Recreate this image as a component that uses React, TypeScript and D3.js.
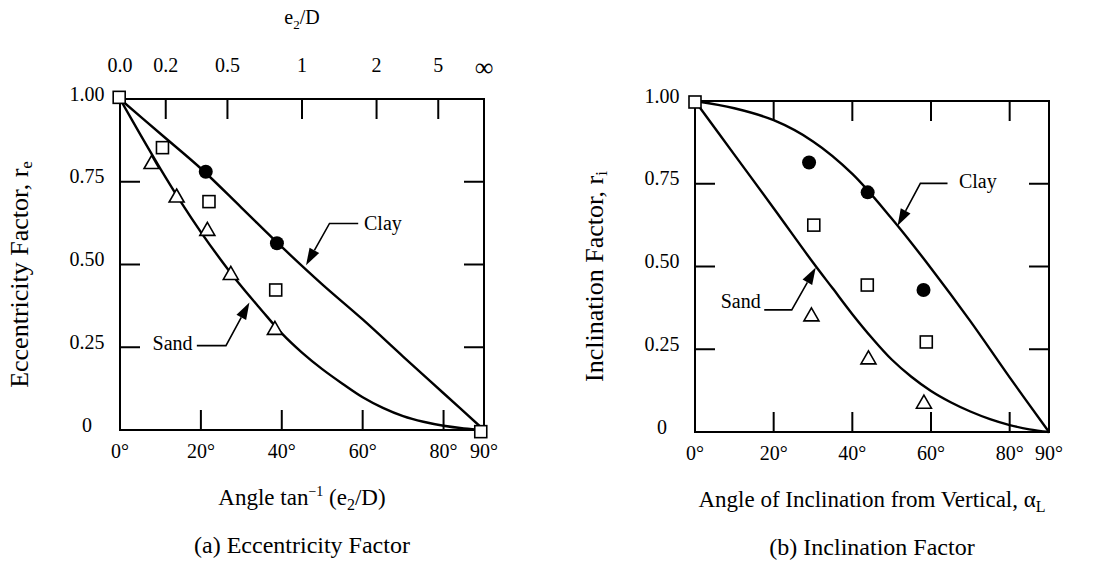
import React from "react";
import * as d3 from "d3";

// ---------- shared axes ----------
const angleTickValues = [20, 40, 60, 80];
const angleTickLabels = [0, 20, 40, 60, 80, 90];
const factorTickValues = [0.25, 0.5, 0.75];
const factorLabelValues = [0, 0.25, 0.5, 0.75, 1.0];
const factorLabelText = ["0", "0.25", "0.50", "0.75", "1.00"];
const eOverDTickValues = [0.2, 0.5, 1, 2, 5];
const eOverDLabelValues = [0, 0.2, 0.5, 1, 2, 5, Infinity];
const eOverDLabelText = ["0.0", "0.2", "0.5", "1", "2", "5", "∞"];

// ---------- (a) eccentricity factor: [angle deg, r_e] ----------
const eccClayCurve: [number, number][] = [
  [0, 1], [10, 0.895], [20, 0.79], [30, 0.672], [40, 0.553], [50, 0.44],
  [60, 0.334], [70, 0.222], [80, 0.111], [90, 0],
];
const eccSandCurve: [number, number][] = [
  [0, 1], [5, 0.893], [10, 0.789], [15, 0.69], [20, 0.598], [25, 0.513],
  [30, 0.434], [35, 0.362], [40, 0.292], [45, 0.234], [50, 0.184],
  [55, 0.14], [60, 0.099], [65, 0.067], [70, 0.042], [75, 0.025],
  [80, 0.013], [85, 0.005], [90, 0],
];
const eccCircles: [number, number][] = [[21.2, 0.78], [38.8, 0.564]];
const eccSquares: [number, number][] = [
  [-0.2, 1.005], [10.5, 0.853], [22, 0.69], [38.5, 0.423], [89.2, -0.005],
];
const eccTriangles: [number, number][] = [
  [7.8, 0.808], [14, 0.707], [21.6, 0.606], [27.4, 0.473], [38.3, 0.307],
];

// ---------- (b) inclination factor: [angle deg, r_i] ----------
const incClayCurve: [number, number][] = [
  [0, 1], [10, 0.978], [20, 0.942], [30, 0.878], [40, 0.78], [50, 0.645],
  [60, 0.495], [70, 0.335], [80, 0.165], [90, 0],
];
const incSandCurve: [number, number][] = [
  [0, 1], [10, 0.838], [20, 0.676], [30, 0.512], [35, 0.434], [40, 0.356],
  [45, 0.284], [50, 0.219], [55, 0.167], [60, 0.124], [65, 0.09],
  [70, 0.062], [75, 0.039], [80, 0.021], [85, 0.008], [90, 0],
];
const incCircles: [number, number][] = [[29, 0.814], [43.9, 0.724], [58.1, 0.429]];
const incSquares: [number, number][] = [
  [0, 0.997], [30.2, 0.625], [43.8, 0.444], [58.8, 0.272],
];
const incTriangles: [number, number][] = [[29.6, 0.354], [44.1, 0.224], [58.2, 0.09]];

// annotations: label, text pos, leader start, leader end (horizontal), arrow tip
type Ann = { label: string; text: [number, number]; h0: number; h1: number; hv: number; tip: [number, number] };
const eccAnnotations: Ann[] = [
  { label: "Clay", text: [65, 0.619], h0: 58.9, h1: 51.8, hv: 0.624, tip: [46, 0.498] },
  { label: "Sand", text: [13, 0.257], h0: 19, h1: 26.2, hv: 0.255, tip: [32, 0.385] },
];
const incAnnotations: Ann[] = [
  { label: "Clay", text: [71.9, 0.751], h0: 64.2, h1: 57.3, hv: 0.751, tip: [51.5, 0.623] },
  { label: "Sand", text: [11.6, 0.389], h0: 17.6, h1: 24.6, hv: 0.369, tip: [30.7, 0.497] },
];

const FONT = "Liberation Serif, Times New Roman, serif";

type PanelProps = {
  x0: number; x1: number; y0: number; y1: number;
  clay: [number, number][]; sand: [number, number][];
  circles: [number, number][]; squares: [number, number][]; triangles: [number, number][];
  anns: Ann[];
  topEOverD: boolean;
  yTitle: string; ySub: string;
  xTitle: React.ReactNode; caption: string;
};

function Panel(p: PanelProps) {
  const x = d3.scaleLinear().domain([0, 90]).range([p.x0, p.x1]);
  const y = d3.scaleLinear().domain([0, 1]).range([p.y1, p.y0]);
  const line = d3.line<[number, number]>().x((d) => x(d[0])).y((d) => y(d[1])).curve(d3.curveCatmullRom.alpha(0.5));
  const tickLen = 20;
  const cx = (p.x0 + p.x1) / 2;
  const cy = (p.y0 + p.y1) / 2;
  const labelX = p.x0 - 33;
  const atanDeg = (v: number) => (Math.atan(v) * 180) / Math.PI;

  return (
    <g>
      {/* frame */}
      <rect x={p.x0} y={p.y0} width={p.x1 - p.x0} height={p.y1 - p.y0} fill="none" stroke="#000" strokeWidth={2} />
      {/* bottom ticks */}
      {angleTickValues.map((t) => (
        <line key={"b" + t} x1={x(t)} x2={x(t)} y1={p.y1} y2={p.y1 - tickLen} stroke="#000" strokeWidth={2} />
      ))}
      {/* top ticks */}
      {(p.topEOverD ? eOverDTickValues.map(atanDeg) : angleTickValues).map((t, i) => (
        <line key={"t" + i} x1={x(t)} x2={x(t)} y1={p.y0} y2={p.y0 + tickLen} stroke="#000" strokeWidth={2} />
      ))}
      {/* left/right ticks */}
      {factorTickValues.map((t) => (
        <g key={"lr" + t}>
          <line x1={p.x0} x2={p.x0 + tickLen} y1={y(t)} y2={y(t)} stroke="#000" strokeWidth={2} />
          <line x1={p.x1} x2={p.x1 - tickLen} y1={y(t)} y2={y(t)} stroke="#000" strokeWidth={2} />
        </g>
      ))}
      {/* y labels */}
      {factorLabelValues.map((t, i) => (
        <text key={"yl" + t} x={labelX} y={y(t) - 3} textAnchor="middle" dominantBaseline="middle" fontSize={20} fontFamily={FONT}>
          {factorLabelText[i]}
        </text>
      ))}
      {/* x labels */}
      {angleTickLabels.map((t) => (
        <text key={"xl" + t} x={x(t)} y={p.y1 + 23} textAnchor="middle" dominantBaseline="middle" fontSize={20} fontFamily={FONT}>
          {t + "°"}
        </text>
      ))}
      {/* top e2/D labels */}
      {p.topEOverD && (
        <g>
          {eOverDLabelValues.map((v, i) => (
            <text key={"el" + i} x={x(atanDeg(v))} y={p.y0 - 32 + (i === 6 ? 3 : 0)} textAnchor="middle" dominantBaseline="middle"
              fontSize={i === 6 ? 26 : 20} fontFamily={FONT}>
              {eOverDLabelText[i]}
            </text>
          ))}
          <text x={cx} y={p.y0 - 75} textAnchor="middle" fontSize={20} fontFamily={FONT}>
            e<tspan fontSize={13} dy={5}>2</tspan><tspan dy={-5}>/D</tspan>
          </text>
        </g>
      )}
      {/* y title */}
      <text transform={`translate(${p.x0 - 98},${cy + 10}) rotate(-90)`} textAnchor="middle" dominantBaseline="middle" fontSize={26} fontFamily={FONT}>
        {p.yTitle}<tspan fontSize={17} dy={6}>{p.ySub}</tspan>
      </text>
      {/* x title */}
      <text x={cx} y={p.y1 + 75} textAnchor="middle" fontSize={23} fontFamily={FONT}>{p.xTitle}</text>
      {/* caption */}
      <text x={cx} y={p.y1 + 123} textAnchor="middle" fontSize={24} fontFamily={FONT}>{p.caption}</text>

      {/* curves */}
      <path d={line(p.clay) || ""} fill="none" stroke="#000" strokeWidth={2.4} />
      <path d={line(p.sand) || ""} fill="none" stroke="#000" strokeWidth={2.4} />

      {/* markers */}
      {p.circles.map((d, i) => (
        <circle key={"c" + i} cx={x(d[0])} cy={y(d[1])} r={7} fill="#000" />
      ))}
      {p.squares.map((d, i) => (
        <rect key={"s" + i} x={x(d[0]) - 6} y={y(d[1]) - 6} width={12} height={12} fill="#fff" stroke="#000" strokeWidth={1.6} />
      ))}
      {p.triangles.map((d, i) => {
        const px = x(d[0]);
        const py = y(d[1]);
        return (
          <path key={"tr" + i} d={`M${px},${py - 7}L${px + 7.5},${py + 6}L${px - 7.5},${py + 6}Z`} fill="#fff" stroke="#000" strokeWidth={1.6} />
        );
      })}

      {/* annotations */}
      {p.anns.map((a, i) => {
        const hy = y(a.hv);
        const hx0 = x(a.h0);
        const hx1 = x(a.h1);
        const tx = x(a.tip[0]);
        const ty = y(a.tip[1]);
        const dx = tx - hx1;
        const dy = ty - hy;
        const len = Math.hypot(dx, dy);
        const ux = dx / len;
        const uy = dy / len;
        const hl = 17;
        const hw = 5.5;
        const bx = tx - ux * hl;
        const by = ty - uy * hl;
        const head = `M${tx},${ty}L${bx - uy * hw},${by + ux * hw}L${bx + uy * hw},${by - ux * hw}Z`;
        return (
          <g key={"a" + i}>
            <polyline points={`${hx0},${hy} ${hx1},${hy} ${bx},${by}`} fill="none" stroke="#000" strokeWidth={1.6} />
            <path d={head} fill="#000" />
            <text x={x(a.text[0])} y={y(a.text[1])} textAnchor="middle" dominantBaseline="middle" fontSize={20} fontFamily={FONT}>
              {a.label}
            </text>
          </g>
        );
      })}
    </g>
  );
}

export default function App() {
  return (
    <svg width={1102} height={565} style={{ position: "absolute", left: 0, top: 0, background: "#fff" }}>
      <rect x={0} y={0} width={1102} height={565} fill="#fff" />
      <Panel
        x0={120} x1={484} y0={99} y1={430}
        clay={eccClayCurve} sand={eccSandCurve}
        circles={eccCircles} squares={eccSquares} triangles={eccTriangles}
        anns={eccAnnotations} topEOverD={true}
        yTitle="Eccentricity Factor, r" ySub="e"
        xTitle={<>Angle tan<tspan fontSize={14} dy={-9}>−1</tspan><tspan dy={9}> (e</tspan><tspan fontSize={16} dy={5}>2</tspan><tspan dy={-5}>/D)</tspan></>}
        caption="(a) Eccentricity Factor"
      />
      <Panel
        x0={695} x1={1049} y0={101} y1={432}
        clay={incClayCurve} sand={incSandCurve}
        circles={incCircles} squares={incSquares} triangles={incTriangles}
        anns={incAnnotations} topEOverD={false}
        yTitle="Inclination Factor, r" ySub="i"
        xTitle={<>Angle of Inclination from Vertical, α<tspan fontSize={16} dy={5}>L</tspan></>}
        caption="(b) Inclination Factor"
      />
    </svg>
  );
}
